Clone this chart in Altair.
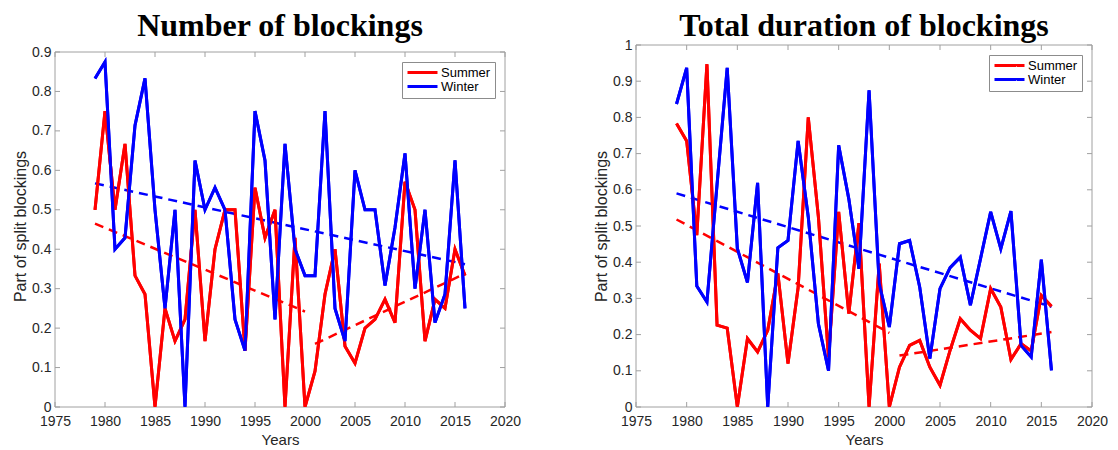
import altair as alt
import pandas as pd

years = list(range(1979, 2017))
series_names = ["Summer", "Winter"]
series_colors = ["#ff0000", "#0000ff"]

num_summer = [0.5, 0.75, 0.5, 0.667, 0.333, 0.286, 0.0, 0.25, 0.167, 0.222, 0.5, 0.167, 0.4, 0.5, 0.5,
              0.143, 0.556, 0.429, 0.5, 0.0, 0.429, 0.0, 0.091, 0.286, 0.4, 0.154, 0.111, 0.2, 0.222,
              0.273, 0.214, 0.571, 0.5, 0.167, 0.273, 0.25, 0.4, 0.333]
num_winter = [0.833, 0.875, 0.4, 0.429, 0.714, 0.833, 0.5, 0.25, 0.5, 0.0, 0.625, 0.5, 0.556, 0.5, 0.222,
              0.143, 0.75, 0.625, 0.222, 0.667, 0.4, 0.333, 0.333, 0.75, 0.25, 0.167, 0.6, 0.5, 0.5,
              0.308, 0.455, 0.643, 0.3, 0.5, 0.214, 0.286, 0.625, 0.25]
dur_summer = [0.783, 0.735, 0.475, 0.947, 0.226, 0.218, 0.0, 0.189, 0.152, 0.212, 0.369, 0.12, 0.33, 0.8,
              0.525, 0.138, 0.539, 0.258, 0.508, 0.0, 0.396, 0.0, 0.11, 0.17, 0.184, 0.11, 0.06, 0.157,
              0.244, 0.212, 0.189, 0.327, 0.276, 0.131, 0.175, 0.155, 0.308, 0.278]
dur_winter = [0.837, 0.937, 0.334, 0.29, 0.615, 0.937, 0.438, 0.344, 0.619, 0.0, 0.44, 0.46, 0.735, 0.525,
              0.23, 0.1, 0.723, 0.575, 0.382, 0.875, 0.341, 0.221, 0.451, 0.46, 0.331, 0.134, 0.327,
              0.385, 0.414, 0.281, 0.41, 0.539, 0.437, 0.541, 0.17, 0.138, 0.407, 0.101]

trend_series = ["Winter", "Summer", "Summer"]
trend_years = [[1979, 2016], [1979, 2000], [2001, 2016]]
num_trend_values = [[0.567, 0.362], [0.465, 0.242], [0.160, 0.338]]
dur_trend_values = [[0.590, 0.277], [0.518, 0.205], [0.142, 0.207]]

x_ticks = [1975, 1980, 1985, 1990, 1995, 2000, 2005, 2010, 2015, 2020]
num_y_ticks = [0, 0.1, 0.2, 0.3, 0.4, 0.5, 0.6, 0.7, 0.8, 0.9]
dur_y_ticks = [0, 0.1, 0.2, 0.3, 0.4, 0.5, 0.6, 0.7, 0.8, 0.9, 1]

titles = ["Number of blockings", "Total duration of blockings"]
y_title = "Part of split blockings"
x_title = "Years"

FRAME = "#a0a0a0"
TXT = "#262626"


def make_panel(summer, winter, trend_vals, y_ticks, y_dom_top, w, h, title_text, leg_x, leg_y, t_off):
    n = len(years)
    y_top = y_ticks[-1]
    x_lo, x_hi = x_ticks[0], x_ticks[-1]
    df = pd.DataFrame({"year": years + years, "value": summer + winter,
                       "series": [series_names[0]] * n + [series_names[1]] * n})
    trows = []
    for i, (yrs, vals) in enumerate(zip(trend_years, trend_vals)):
        for yr, v in zip(yrs, vals):
            trows.append({"year": yr, "value": v, "series": trend_series[i], "seg": i})
    tdf = pd.DataFrame(trows)
    frame_df = pd.DataFrame([
        {"x": x_lo, "x2": x_hi, "y": 0, "y2": 0},
        {"x": x_lo, "x2": x_hi, "y": y_top, "y2": y_top},
        {"x": x_lo, "x2": x_lo, "y": 0, "y2": y_top},
        {"x": x_hi, "x2": x_hi, "y": 0, "y2": y_top},
    ])
    xt = pd.DataFrame({"t": x_ticks})
    yt = pd.DataFrame({"t": y_ticks})

    xs = alt.Scale(domain=[x_lo, x_hi], nice=False, zero=False)
    ys = alt.Scale(domain=[0, y_dom_top], nice=False, zero=False)
    cs = alt.Scale(domain=series_names, range=series_colors)

    xaxis = alt.Axis(values=x_ticks, format="d", title=x_title, grid=False, domain=False, ticks=False,
                     labelPadding=7.5, labelFlush=False, labelOverlap=False, titlePadding=4,
                     titleFontSize=15)
    yaxis = alt.Axis(values=y_ticks, format="~g", title=y_title, grid=False, domain=False, ticks=False,
                     labelPadding=4, titlePadding=3, labelOverlap=False, titleFontSize=16)
    legend = alt.Legend(title=None, orient="none", legendX=leg_x, legendY=leg_y,
                        strokeColor="#8c8c8c", fillColor="white", padding=4,
                        labelFont="Liberation Sans", labelFontSize=13, labelColor="#000000",
                        symbolType="M-1,0H5", symbolSize=100, symbolStrokeWidth=3,
                        symbolDash=[1, 0],
                        labelOffset=22, rowPadding=0)

    lines = alt.Chart(df).mark_line(strokeWidth=3, strokeJoin="miter", clip=True).encode(
        x=alt.X("year:Q", scale=xs, axis=xaxis),
        y=alt.Y("value:Q", scale=ys, axis=yaxis),
        color=alt.Color("series:N", scale=cs, legend=legend, sort=series_names))
    trends = alt.Chart(tdf).mark_line(strokeWidth=2.5, strokeDash=[9, 6]).encode(
        x=alt.X("year:Q", scale=xs, axis=xaxis),
        y=alt.Y("value:Q", scale=ys, axis=yaxis),
        color=alt.Color("series:N", scale=cs, legend=legend, sort=series_names),
        detail="seg:N")
    frame = alt.Chart(frame_df).mark_rule(color=FRAME, strokeWidth=1).encode(
        x=alt.X("x:Q", scale=xs, axis=xaxis), x2="x2:Q",
        y=alt.Y("y:Q", scale=ys, axis=yaxis), y2="y2:Q")
    tick_b = alt.Chart(xt).mark_rule(color=FRAME, y2Offset=-5).encode(
        x=alt.X("t:Q", scale=xs, axis=xaxis), y=alt.Y(datum=0, axis=yaxis), y2=alt.Y2(datum=0))
    tick_t = alt.Chart(xt).mark_rule(color=FRAME, y2Offset=5).encode(
        x=alt.X("t:Q", scale=xs, axis=xaxis), y=alt.Y(datum=y_top, axis=yaxis), y2=alt.Y2(datum=y_top))
    tick_l = alt.Chart(yt).mark_rule(color=FRAME, x2Offset=5).encode(
        y=alt.Y("t:Q", scale=ys, axis=yaxis), x=alt.X(datum=x_lo, axis=xaxis), x2=alt.X2(datum=x_lo))
    tick_r = alt.Chart(yt).mark_rule(color=FRAME, x2Offset=-5).encode(
        y=alt.Y("t:Q", scale=ys, axis=yaxis), x=alt.X(datum=x_hi, axis=xaxis), x2=alt.X2(datum=x_hi))

    return alt.layer(lines, frame, tick_b, tick_t, tick_l, tick_r, trends, lines).properties(
        width=w, height=h,
        title=alt.TitleParams(text=title_text, font="Liberation Serif", fontSize=32, fontWeight="bold",
                              color="#000000", anchor="middle", offset=t_off, frame="group"))


p1 = make_panel(num_summer, num_winter, num_trend_values, num_y_ticks, 0.9 * 362 / 355, 450, 362,
                titles[0], 347, 17, 2)
p2 = make_panel(dur_summer, dur_winter, dur_trend_values, dur_y_ticks, 1.0, 456, 362,
                titles[1], 353, 10, -5)

chart = alt.hconcat(p1, p2, spacing=72).resolve_scale(color="independent").resolve_legend(
    color="independent"
).properties(
    padding={"left": 4, "top": 2, "right": 0, "bottom": 0}
).configure_view(stroke=None).configure_axis(
    labelFont="Liberation Sans", labelFontSize=14, labelColor=TXT,
    titleFont="Liberation Sans", titleFontWeight="normal", titleColor=TXT
).configure_legend(
    labelFont="Liberation Sans"
)

chart.save("out.html", embed_options={"renderer": "svg", "actions": False})
